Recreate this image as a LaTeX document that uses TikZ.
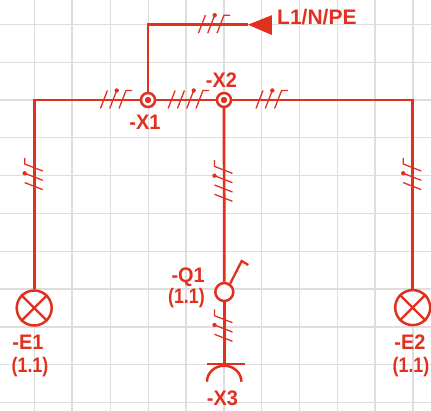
\documentclass[tikz,border=0pt]{standalone}
\usepackage{fontspec}
\setmainfont{Liberation Sans}
\definecolor{wirered}{HTML}{E2301F}
\definecolor{gridgrey}{HTML}{DEDEDE}
\newcommand{\narrowa}[1]{\scalebox{0.95}[1]{#1}}
\newcommand{\narrowb}[1]{\scalebox{0.85}[1]{#1}}
\tikzset{
  wire/.style={draw=wirered,line width=2.7pt},
  terminal/.style={circle,draw=wirered,fill=white,line width=2.5pt,minimum size=14pt,inner sep=0pt},
  lamp/.style={circle,draw=wirered,fill=white,line width=2.5pt,minimum size=35pt,inner sep=0pt},
  breaker/.style={circle,draw=wirered,fill=white,line width=2.5pt,minimum size=18pt,inner sep=0pt},
  lbl/.style={text=wirered,font=\fontsize{21}{21}\selectfont\bfseries,inner sep=0pt},
  tick/.style={draw=wirered,line width=1.3pt},
  cableiii/.pic={
    \draw[tick] (-12.8,8.5) -- (-5.8,-9.5);
    \draw[tick] (-3.5,8.5) -- (3.5,-9.5);
    \fill[wirered] (3.5,-9.5) circle (2.2);
    \draw[tick] (5.8,8.5) -- (12.8,-9.5) -- (19,-9.5);
  },
  cableiv/.pic={
    \draw[tick] (-22.1,8.5) -- (-15.1,-9.5);
    \draw[tick] (-12.8,8.5) -- (-5.8,-9.5);
    \draw[tick] (-3.5,8.5) -- (3.5,-9.5);
    \fill[wirered] (3.5,-9.5) circle (2.2);
    \draw[tick] (5.8,8.5) -- (12.8,-9.5) -- (19,-9.5);
  }
}
\begin{document}
\begin{tikzpicture}[x=1pt,y=-1pt]
\useasboundingbox (0,0) rectangle (431,411);
\fill[white] (0,0) rectangle (431,411);
\foreach \gx in {34.3,72.1,110.6,148.2,186,223.8,261.6,299.4,337.2,375,412.8}
  \draw[gridgrey,line width=1.4pt] (\gx,0) -- (\gx,411);
\foreach \gy in {24.7,62.4,100,137.8,175.6,213.4,251.4,289.2,327,364.7,402.4}
  \draw[gridgrey,line width=1.4pt] (0,\gy) -- (431,\gy);

\node[terminal] (X1) at (148,100) {};
\node[terminal] (X2) at (224,100) {};
\node[lamp] (E1) at (34.2,308) {};
\node[lamp] (E2) at (412.7,307.6) {};
\node[breaker] (Q1) at (224.3,292) {};
\coordinate (feed) at (248,24.7);
\coordinate (X3top) at (224.3,364);

\draw[wire] (X1.north) |- (feed);
\draw[wire] (E1.north) |- (X1.west);
\draw[wire] (X1.east) -- (X2.west);
\draw[wire] (X2.east) -| (E2.north);
\draw[wire] (X2.south) -- (Q1.north);
\draw[wire] (Q1.south) -- (X3top);

\fill[wirered] (feed) -- (271.8,15.2) -- (271.8,35) -- cycle;
\fill[wirered] (X1) circle (3.2);
\fill[wirered] (X2) circle (3.2);
\foreach \lampn in {E1,E2}{
  \draw[wirered,line width=2.3pt] (\lampn.45) -- (\lampn.225);
  \draw[wirered,line width=2.3pt] (\lampn.135) -- (\lampn.-45);
}
\draw[wirered,line width=2.3pt] (Q1.55) -- (241.7,261) -- (248.3,265);
\draw[wirered,line width=2.3pt] (207.3,364) -- (245,364);
\draw[wirered,line width=2.5pt] (207,381.7) arc[start angle=180,end angle=360,x radius=17.2,y radius=16];

\pic at (211.2,24.7) {cableiii};
\pic at (113.2,100) {cableiii};
\pic at (190.2,100) {cableiv};
\pic at (268.8,100) {cableiii};
\pic[rotate=90] at (34.2,176.8) {cableiii};
\pic[rotate=90] at (412.7,176.8) {cableiii};
\pic[rotate=90] at (224,179.2) {cableiv};
\pic[rotate=90] at (224,328.5) {cableiii};

\node[lbl,anchor=west] (Lfeed) at (277,17) {L1/N/PE};
\node[lbl] (LX1) at (145,122) {\narrowa{-X1}};
\node[lbl] (LX2) at (221.5,80) {\narrowa{-X2}};
\node[lbl,anchor=east] (LQ1a) at (205,277.5) {\narrowa{-Q1}};
\node[lbl,anchor=east] (LQ1b) at (205,298) {\narrowb{(1.1)}};
\node[lbl] (LE1a) at (28,342) {\narrowa{-E1}};
\node[lbl] (LE1b) at (30,367) {\narrowb{(1.1)}};
\node[lbl] (LE2a) at (410,342) {\narrowa{-E2}};
\node[lbl] (LE2b) at (411,367) {\narrowb{(1.1)}};
\node[lbl] (LX3) at (222.5,398.5) {\narrowa{-X3}};
\end{tikzpicture}
\end{document}
